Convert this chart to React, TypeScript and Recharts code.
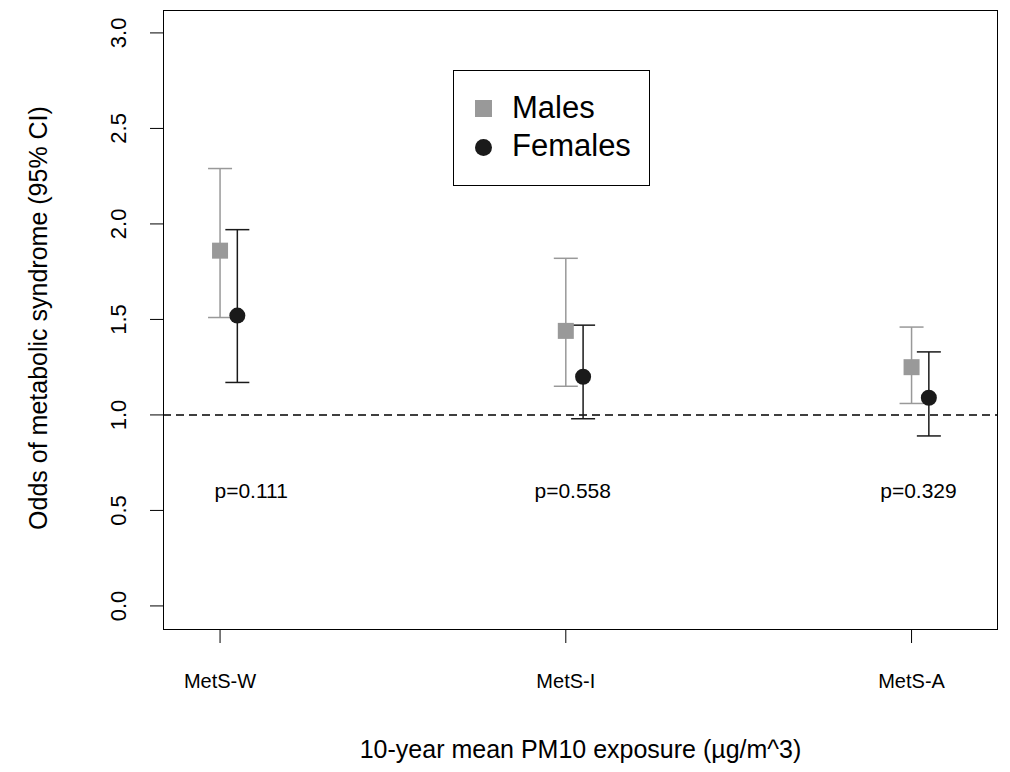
import { ScatterChart, Scatter, XAxis, YAxis, ErrorBar, ReferenceLine } from "recharts";

const categories = ["MetS-W", "MetS-I", "MetS-A"];
const malesOR = [1.86, 1.44, 1.25];
const malesLow = [1.51, 1.15, 1.06];
const malesHigh = [2.29, 1.82, 1.46];
const femalesOR = [1.52, 1.2, 1.09];
const femalesLow = [1.17, 0.98, 0.89];
const femalesHigh = [1.97, 1.47, 1.33];
const pLabels = ["p=0.111", "p=0.558", "p=0.329"];
const pX = [1.09, 2.02, 3.02];
const yTicks = [0, 0.5, 1, 1.5, 2, 2.5, 3];

const males = categories.map((c, i) => ({
  x: i + 1,
  y: malesOR[i],
  err: [malesOR[i] - malesLow[i], malesHigh[i] - malesOR[i]],
}));
const females = categories.map((c, i) => ({
  x: i + 1.05,
  y: femalesOR[i],
  err: [femalesOR[i] - femalesLow[i], femalesHigh[i] - femalesOR[i]],
}));
const pData = pLabels.map((t, i) => ({ x: pX[i], y: 0.6, t }));

const font = "'Liberation Sans', Arial, sans-serif";

const YTick = (props: any) => {
  const { x, y, payload } = props;
  const tx = x - 22;
  return (
    <text x={tx} y={y} transform={`rotate(-90 ${tx} ${y})`} textAnchor="middle" fontSize={22} fontFamily={font} fill="#000">
      {payload.value.toFixed(1)}
    </text>
  );
};

const XTick = (props: any) => {
  const { x, y, payload } = props;
  return (
    <text x={x} y={y + 43} textAnchor="middle" fontSize={20} fontFamily={font} fill="#000">
      {categories[payload.value - 1]}
    </text>
  );
};

export default function App() {
  return (
    <div style={{ position: "absolute", left: 0, top: 0, width: 1010, height: 772, background: "#fff", fontFamily: font }}>
      <ScatterChart width={1010} height={772} margin={{ top: 10, right: 12, bottom: 112, left: 0 }}>
        <XAxis type="number" dataKey="x" height={30} domain={[0.835, 3.25]} ticks={[1, 2, 3]} tick={<XTick />} axisLine={false} tickSize={13} tickLine={{ stroke: "#000" }} allowDataOverflow />
        <YAxis type="number" dataKey="y" width={163} domain={[-0.126, 3.12]} ticks={yTicks} tick={<YTick />} axisLine={false} tickSize={13} tickLine={{ stroke: "#000" }} allowDataOverflow />
        <ReferenceLine y={1} stroke="#000" strokeDasharray="8 5" strokeWidth={1.5} />
        <Scatter data={males} fill="#999999" isAnimationActive={false}
          shape={(p: any) => <rect x={p.cx - 8} y={p.cy - 8} width={16} height={16} fill="#999999" />}>
          <ErrorBar dataKey="err" direction="y" width={12} stroke="#999999" strokeWidth={1.5} />
        </Scatter>
        <Scatter data={females} fill="#1a1a1a" isAnimationActive={false}
          shape={(p: any) => <circle cx={p.cx} cy={p.cy} r={8} fill="#1a1a1a" />}>
          <ErrorBar dataKey="err" direction="y" width={12} stroke="#1a1a1a" strokeWidth={1.5} />
        </Scatter>
        <Scatter data={pData} isAnimationActive={false}
          shape={(p: any) => (
            <text x={p.cx} y={p.cy + 7} textAnchor="middle" fontSize={21} fontFamily={font} fill="#000">{p.payload.t}</text>
          )} />
      </ScatterChart>
      <div style={{ position: "absolute", left: 163, top: 10, width: 835, height: 620, border: "1.5px solid #000", boxSizing: "border-box", pointerEvents: "none" }} />
      <div style={{ position: "absolute", left: 453, top: 70, width: 197, height: 116, border: "1.5px solid #000", boxSizing: "border-box", fontSize: 31 }}>
        <div style={{ position: "absolute", left: 21, top: 29, width: 17, height: 17, background: "#999999" }} />
        <div style={{ position: "absolute", left: 58, top: 21, lineHeight: "32px" }}>Males</div>
        <div style={{ position: "absolute", left: 21, top: 68, width: 17, height: 17, borderRadius: 9, background: "#1a1a1a" }} />
        <div style={{ position: "absolute", left: 58, top: 59, lineHeight: "32px", whiteSpace: "nowrap" }}>Females</div>
      </div>
      <div style={{ position: "absolute", left: 163, top: 735, width: 835, textAlign: "center", fontSize: 25 }}>
        10-year mean PM10 exposure (µg/m^3)
      </div>
      <div style={{ position: "absolute", left: 38, top: 318, transform: "translate(-50%, -50%) rotate(-90deg)", whiteSpace: "nowrap", fontSize: 25 }}>
        Odds of metabolic syndrome (95% CI)
      </div>
    </div>
  );
}
